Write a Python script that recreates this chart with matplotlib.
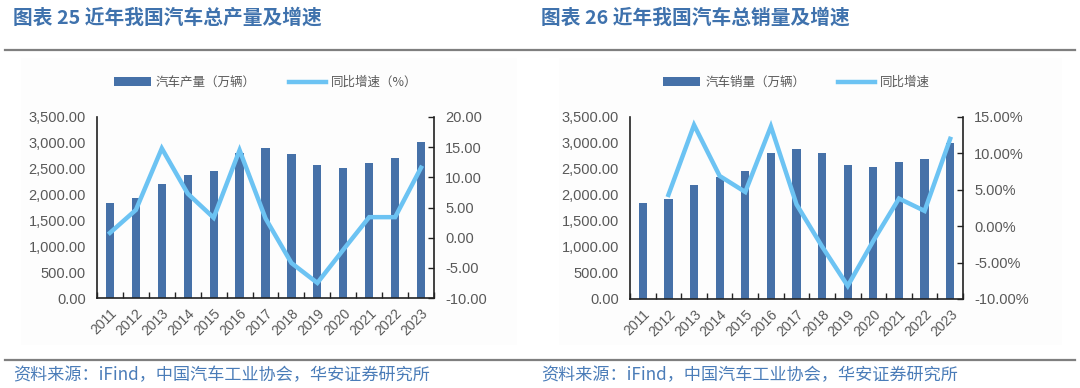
import numpy as np
import matplotlib
matplotlib.use("Agg")
import matplotlib.pyplot as plt
from matplotlib.patches import Rectangle
from matplotlib.lines import Line2D
from matplotlib.ticker import FuncFormatter, FixedLocator

plt.rcParams['font.family'] = ['Liberation Sans', 'Noto Sans CJK SC', 'DejaVu Sans']

years = ['2011', '2012', '2013', '2014', '2015', '2016', '2017',
         '2018', '2019', '2020', '2021', '2022', '2023']
production = [1841.9, 1927.2, 2211.7, 2372.3, 2450.3, 2811.9, 2901.5,
              2780.9, 2572.1, 2522.5, 2608.2, 2702.1, 3016.1]
production_growth = [0.8, 4.6, 14.8, 7.3, 3.3, 14.5, 3.2,
                     -4.2, -7.5, -2.0, 3.4, 3.4, 11.6]
sales = [1850.5, 1930.6, 2198.4, 2349.2, 2459.8, 2802.8, 2887.9,
         2808.1, 2576.9, 2531.1, 2627.5, 2686.4, 3009.4]
sales_growth = [np.nan, 4.3, 13.9, 6.9, 4.7, 13.7, 3.0,
                -2.8, -8.2, -2.0, 3.8, 2.1, 12.0]

title_left = '图表 25 近年我国汽车总产量及增速'
title_right = '图表 26 近年我国汽车总销量及增速'
legend_left = ['汽车产量（万辆）', '同比增速（%）']
legend_right = ['汽车销量（万辆）', '同比增速']
source = '资料来源：iFind，中国汽车工业协会，华安证券研究所'

BAR = '#4671a8'
LINE = '#6cc3f3'
TICK = '#595959'
TITLE = '#3f72ad'
W, H = 1080, 388

fig = plt.figure(figsize=(W / 100, H / 100), dpi=100)
fig.patch.set_facecolor('white')

def px_axes(x0, y0, x1, y1):
    return fig.add_axes([x0 / W, 1 - y1 / H, (x1 - x0) / W, (y1 - y0) / H])

# faint panel backgrounds
for x0, x1 in [(21, 517), (559, 1062)]:
    fig.patches.append(Rectangle((x0 / W, 1 - 345 / H), (x1 - x0) / W, (345 - 58) / H,
                                 transform=fig.transFigure, facecolor='#fdfdfd',
                                 edgecolor='none', zorder=-5))

# separator lines
for yy in [50, 360]:
    fig.add_artist(Line2D([5 / W, 1075 / W], [1 - yy / H, 1 - yy / H],
                          transform=fig.transFigure, color='#7f7f7f', lw=1.6))

cjk = ['Noto Sans CJK SC', 'DejaVu Sans']
fig.text(13 / W, 1 - 18 / H, title_left, family=cjk, fontsize=14.2, fontweight='bold',
         color=TITLE, va='center', ha='left')
fig.text(541 / W, 1 - 18 / H, title_right, family=cjk, fontsize=14.2, fontweight='bold',
         color=TITLE, va='center', ha='left')
fig.text(13 / W, 1 - 375 / H, source, family=cjk, fontsize=12.3, color='#4a7cb8',
         va='center', ha='left')
fig.text(541 / W, 1 - 375 / H, source, family=cjk, fontsize=12.3, color='#4a7cb8',
         va='center', ha='left')


def draw(rect, bars, growth, gmin, gmax, gfmt, labels):
    ax = px_axes(*rect)
    ax.set_facecolor('none')
    x = np.arange(len(years))
    b = ax.bar(x, bars, width=0.32, color=BAR, zorder=2)
    ax.set_xlim(-0.5, len(years) - 0.5)
    ax.set_ylim(0, 3500)
    ax.set_yticks(np.arange(0, 3501, 500))
    ax.yaxis.set_major_formatter(FuncFormatter(lambda v, p: f'{v:,.2f}'))
    ax.set_xticks(x)
    ax.set_xticklabels(years, rotation=45, ha='right', rotation_mode='anchor')
    ax.xaxis.set_minor_locator(FixedLocator(np.arange(-0.5, len(years), 1.0)))
    ax.tick_params(axis='x', which='major', length=0, labelsize=10, labelcolor=TICK, pad=6)
    ax.tick_params(axis='x', which='minor', direction='in', length=4, width=1, color='#222222')
    ax.tick_params(axis='y', length=0, labelsize=10.5, labelcolor=TICK, pad=8)
    for s in ['top', 'right']:
        ax.spines[s].set_visible(False)
    for s in ['left', 'bottom']:
        ax.spines[s].set_color('#222222')
        ax.spines[s].set_linewidth(1.2)

    ax2 = ax.twinx()
    ln, = ax2.plot(x, growth, color=LINE, lw=3.2, solid_joinstyle='miter', zorder=3)
    ax2.set_ylim(gmin, gmax)
    ax2.set_yticks(np.arange(gmin, gmax + 0.1, 5))
    ax2.yaxis.set_major_formatter(FuncFormatter(gfmt))
    ax2.tick_params(axis='y', direction='in', length=4, width=1, color='#222222',
                    labelsize=10.5, labelcolor=TICK, pad=8)
    for s in ['top', 'left', 'bottom']:
        ax2.spines[s].set_visible(False)
    ax2.spines['right'].set_color('#222222')
    ax2.spines['right'].set_linewidth(1.2)

    leg = ax.legend([b, ln], labels, loc='center', bbox_to_anchor=(0.5, 1.19),
                    ncol=2, frameon=False, handlelength=3.0, columnspacing=2.6,
                    handletextpad=0.4, prop={'family': cjk, 'size': 9})
    for t in leg.get_texts():
        t.set_color(TICK)
    return ax, ax2


draw((97, 117, 434, 298), production, production_growth, -10, 20,
     lambda v, p: f'{v:.2f}', legend_left)
draw((630, 117, 963, 299), sales, sales_growth, -10, 15,
     lambda v, p: f'{v:.2f}%', legend_right)

fig.savefig('out.png', dpi=100, facecolor='white')
